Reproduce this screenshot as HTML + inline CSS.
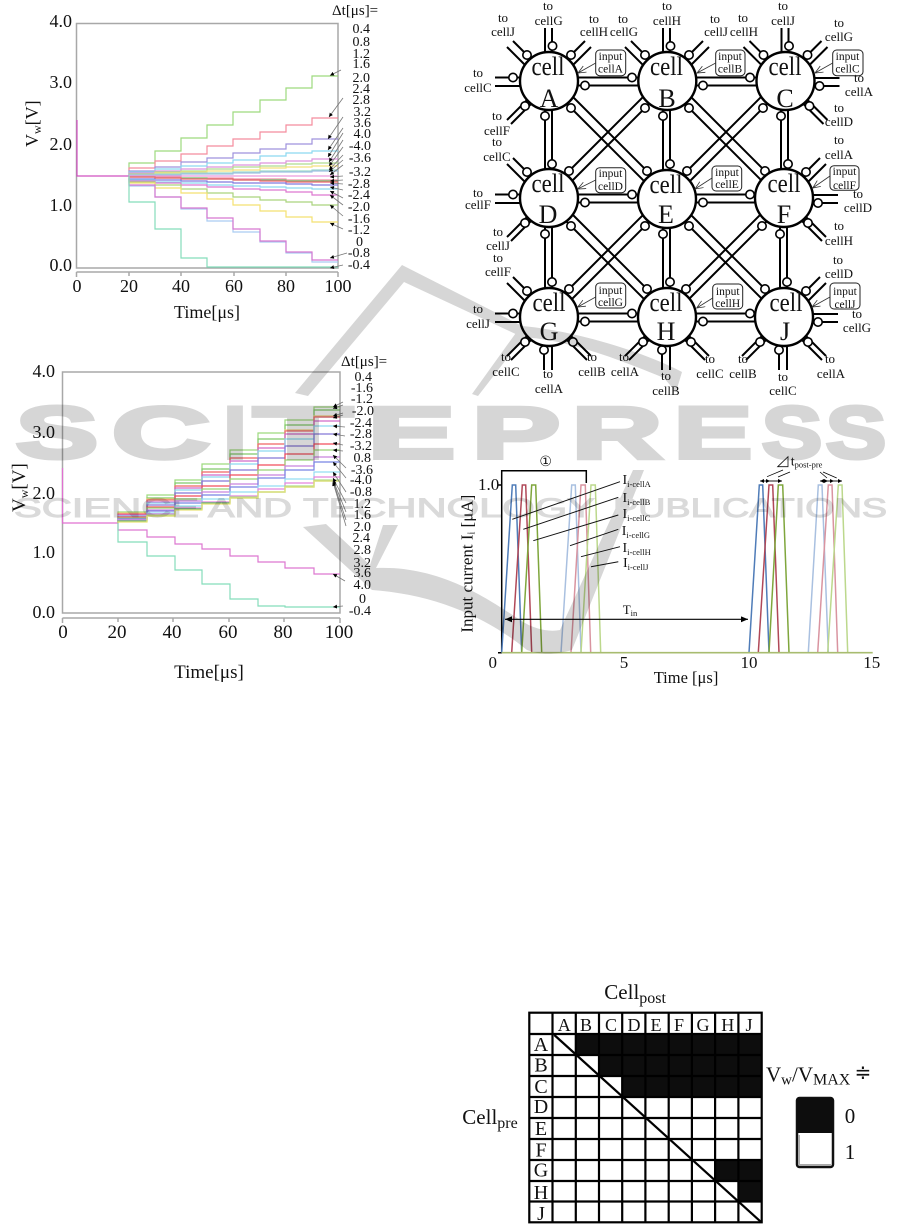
<!DOCTYPE html>
<html><head><meta charset="utf-8"><style>
html,body{margin:0;padding:0;background:#fff;width:901px;height:1224px;overflow:hidden}
svg{display:block;filter:blur(.35px)}
text{font-family:"Liberation Serif","DejaVu Serif",serif;fill:#111}
.ax{fill:none;stroke:#a8a8a8;stroke-width:1.5}
.t{fill:none;stroke-width:1.2;opacity:.85}
.ar line{stroke:#777;stroke-width:.8}
.l{fill:none;stroke:#000;stroke-width:2}
.c{fill:#fff;stroke:#000;stroke-width:1.6}
.big{fill:#fff;stroke:#000;stroke-width:2.4}
.s18{font-size:18px}
.s14{font-size:14px}
.n{font-size:13px;text-anchor:middle}
.b{font-size:11.5px;text-anchor:middle}
.box{fill:#fff;stroke:#222;stroke-width:1}
.p{fill:none;stroke-width:1.5}
.w1{font-family:"Liberation Sans",sans-serif;font-weight:bold;font-size:73px;fill:#d6d6d6;stroke:#d6d6d6;stroke-width:4}
.w2{font-family:"Liberation Sans",sans-serif;font-size:27px;fill:#dadada;stroke:#dadada;stroke-width:1}
</style></head><body>
<svg width="901" height="1224" viewBox="0 0 901 1224" xmlns="http://www.w3.org/2000/svg">
<defs>
<marker id="ah" markerUnits="userSpaceOnUse" markerWidth="5" markerHeight="5" refX="4" refY="2" orient="auto"><path d="M0 0L4 2L0 4Z" fill="#000"/></marker>
<marker id="ao" markerUnits="userSpaceOnUse" markerWidth="9" markerHeight="8" refX="8" refY="3.5" orient="auto"><path d="M0 0L8 3.5L0 7" fill="none" stroke="#333" stroke-width=".8"/></marker>
<marker id="ab" markerUnits="userSpaceOnUse" markerWidth="8" markerHeight="8" refX="7" refY="3" orient="auto-start-reverse"><path d="M0 0L7 3L0 6Z" fill="#000"/></marker>
<marker id="as" markerUnits="userSpaceOnUse" markerWidth="5" markerHeight="5" refX="4" refY="2" orient="auto-start-reverse"><path d="M0 0L4 2L0 4Z" fill="#000"/></marker>
<g id="H"><path class="l" d="M0-3.5H118M0 4.5H118"/><circle class="c" cx="83" cy="-3.5" r="4.2"/><circle class="c" cx="36" cy="4.5" r="4.2"/></g>
<g id="V"><path class="l" d="M-4 0V118M3 0V118"/><circle class="c" cx="-4" cy="35" r="4.2"/><circle class="c" cx="3" cy="83" r="4.2"/></g>
<g id="X"><path class="l" d="M0-8L118 110M0 5L118 123"/><circle class="c" cx="22" cy="27" r="4.2"/><circle class="c" cx="98" cy="90" r="4.2"/></g>
<g id="U"><path class="l" d="M-4-53V-25M3-53V-25"/><circle class="c" cx="3.5" cy="-35" r="4.2"/></g>
<g id="UL"><path class="l" d="M-36-40L-15-19M-42-34L-20-12"/><circle class="c" cx="-22" cy="-26" r="4.2"/></g>
<g id="UR"><path class="l" d="M36-40L15-19M42-34L20-12"/><circle class="c" cx="22" cy="-26" r="4.2"/></g>
<g id="L"><path class="l" d="M-54-3.5H-25M-54 5H-25"/><circle class="c" cx="-36" cy="-3.5" r="4.2"/></g>
<g id="R"><path class="l" d="M54-3H25M54 5H25"/><circle class="c" cx="34" cy="5" r="4.2"/></g>
<g id="DL"><path class="l" d="M-42 39L-20 17M-38 43L-16 21"/><circle class="c" cx="-24" cy="25" r="4.2"/></g>
<g id="DR"><path class="l" d="M42 39L20 17M38 43L16 21"/><circle class="c" cx="24" cy="25" r="4.2"/></g>
<g id="D"><path class="l" d="M-5 53V25M3 53V25"/><circle class="c" cx="-5" cy="33" r="4.2"/></g>
</defs>

<!-- Plot 1 -->
<path class="ax" d="M76.5 23.5H338V268H76.5Z"/>
<path class="ax" d="M76.5 272H338M76.5 272V277M129 272V276M181 272V276M234 272V276M286 272V276M338 272V277"/>
<path d="M77 120V176H129" fill="none" stroke="#d050c0" stroke-width="1.2"/>
<g class="t">
<path stroke="#8ed468" d="M129 176V163H155V151H181V138H207V125H233V112H260V100H286V88H312V76H338"/>
<path stroke="#f4788c" d="M129 176V168H155V161H181V154H207V146H233V139H260V132H286V125H312V118H338"/>
<path stroke="#8f7fd8" d="M129 176V171H155V167H181V162H207V158H233V153H260V149H286V144H312V139H338"/>
<path stroke="#78d2ee" d="M129 176V172H155V169H181V166H207V163H233V160H260V156H286V153H312V151H338"/>
<path stroke="#d982d8" d="M129 176V173H155V171H181V169H207V167H233V165H260V163H286V161H312V159H338"/>
<path stroke="#a4d67c" d="M129 176V174H155V172H181V171H207V169H233V167H260V166H286V164H312V163H338"/>
<path stroke="#f4dc68" d="M129 176V175H155V173H181V172H207V171H233V170H260V168H286V167H312V166H338"/>
<path stroke="#8ed6be" d="M129 176V175H155V174H181V173H207V173H233V172H260V171H286V171H312V170H338"/>
<path stroke="#8fb4e0" d="M129 176V175H155V175H181V174H207V174H233V173H260V172H286V172H312V171H338"/>
<path stroke="#e58ad8" d="M129 176H338"/>
<path stroke="#f07c98" d="M129 177H155V177H181V178H207V178H233V179H260V179H286V180H312V180H338"/>
<path stroke="#5fc060" d="M129 177H155V178H181V178H207V179H233V180H260V180H286V181H312V181H338"/>
<path stroke="#f04858" d="M129 177H155V178H181V179H207V179H233V180H260V181H286V182H312V182H338"/>
<path stroke="#6a62d8" d="M129 178V179H155V180H181V181H207V182H233V183H260V183H286V184H312V185H338"/>
<path stroke="#78d2ee" d="M129 179V180H155V182H181V183H207V185H233V186H260V187H286V188H312V189H338"/>
<path stroke="#d860c8" d="M129 179V181H155V183H181V185H207V187H233V189H260V190H286V192H312V195H338"/>
<path stroke="#9ccc68" d="M129 178V182H155V185H181V189H207V193H233V197H260V200H286V202H312V205H338"/>
<path stroke="#f4dc58" d="M129 176V183H155V188H181V193H207V199H233V205H260V211H286V217H312V222H338"/>
<path stroke="#9ac4f0" d="M129 176V186H155V197H181V209H207V221H233V232H260V242H286V253H312V262H338"/>
<path stroke="#d060c8" d="M129 176V185H155V197H181V208H207V218H233V229H260V241H286V252H312V260H338"/>
<path stroke="#70d8b0" d="M129 176V202H155V229H181V258H207V267H338"/>
</g>
<g class="ar">
<line x1="341" y1="70" x2="330" y2="75.5" marker-end="url(#ah)"/><line x1="343" y1="98" x2="329" y2="117" marker-end="url(#ah)"/><line x1="343" y1="117" x2="328" y2="139" marker-end="url(#ah)"/><line x1="343" y1="128" x2="328" y2="150" marker-end="url(#ah)"/><line x1="343" y1="133" x2="328" y2="157" marker-end="url(#ah)"/><line x1="343" y1="140" x2="329" y2="162" marker-end="url(#ah)"/><line x1="343" y1="147" x2="329" y2="166" marker-end="url(#ah)"/><line x1="343" y1="155" x2="329" y2="170" marker-end="url(#ah)"/><line x1="343" y1="160" x2="329" y2="172" marker-end="url(#ah)"/><line x1="343" y1="165" x2="330" y2="175" marker-end="url(#ah)"/><line x1="343" y1="176" x2="330" y2="177" marker-end="url(#ah)"/><line x1="343" y1="180" x2="330" y2="181" marker-end="url(#ah)"/><line x1="343" y1="184" x2="330" y2="183" marker-end="url(#ah)"/><line x1="343" y1="190" x2="330" y2="187" marker-end="url(#ah)"/><line x1="343" y1="198" x2="330" y2="191" marker-end="url(#ah)"/><line x1="343" y1="205" x2="330" y2="195" marker-end="url(#ah)"/><line x1="343" y1="216" x2="330" y2="205" marker-end="url(#ah)"/><line x1="343" y1="229" x2="330" y2="223" marker-end="url(#ah)"/><line x1="347" y1="253" x2="330" y2="258" marker-end="url(#ah)"/><line x1="343" y1="265" x2="330" y2="268" marker-end="url(#ah)"/>
</g>
<g class="s18" text-anchor="end"><text x="72" y="27">4.0</text><text x="72" y="88">3.0</text><text x="72" y="150">2.0</text><text x="72" y="211">1.0</text><text x="72" y="271">0.0</text></g>
<g class="s18" text-anchor="middle"><text x="77" y="292">0</text><text x="129" y="292">20</text><text x="181" y="292">40</text><text x="234" y="292">60</text><text x="286" y="292">80</text><text x="338" y="292">100</text><text x="207" y="318">Time[μs]</text></g>
<text class="s18" transform="translate(38 147) rotate(-90)">V<tspan font-size="12" dy="3">w</tspan><tspan dy="-3">[V]</tspan></text>
<text x="332" y="15" font-size="15">Δt[μs]=</text>
<g class="s14" text-anchor="end"><text x="370" y="33">0.4</text><text x="370" y="46">0.8</text><text x="370" y="58">1.2</text><text x="370" y="68">1.6</text><text x="370" y="82">2.0</text><text x="370" y="93">2.4</text><text x="370" y="104">2.8</text><text x="371" y="116">3.2</text><text x="371" y="127">3.6</text><text x="371" y="138">4.0</text><text x="371" y="150">-4.0</text><text x="371" y="162">-3.6</text><text x="371" y="176">-3.2</text><text x="370" y="188">-2.8</text><text x="370" y="199">-2.4</text><text x="370" y="211">-2.0</text><text x="370" y="223">-1.6</text><text x="370" y="234">-1.2</text><text x="363" y="246">0</text><text x="370" y="257">-0.8</text><text x="370" y="269">-0.4</text></g>

<!-- Plot 2 -->
<path class="ax" d="M62.5 372H340V613H62.5Z"/>
<path class="ax" d="M62.5 618H340M62.5 618V623M118 618V622M173 618V622M229 618V622M284 618V622M340 618V623"/>
<path d="M62.5 468V523H118.5" fill="none" stroke="#e070d0" stroke-width="1.2"/>
<g class="t">
<path stroke="#8ed468" d="M118 523V512H147V495H175V480H202V464H230V450H258V433H285V420H314V407H340"/>
<path stroke="#6cc050" d="M118 523V513H147V498H175V483H202V469H230V454H258V439H285V425H314V410H340"/>
<path stroke="#f4cc70" d="M118 523V513H147V499H175V486H202V472H230V458H258V444H285V430H314V416H340"/>
<path stroke="#f05060" d="M118 523V514H147V500H175V486H202V472H230V458H258V444H285V431H314V417H340"/>
<path stroke="#c850c0" d="M118 523V515H147V502H175V488H202V475H230V461H258V448H285V434H314V421H340"/>
<path stroke="#78d2ee" d="M118 523V516H147V503H175V490H202V477H230V464H258V451H285V439H314V426H340"/>
<path stroke="#7060d0" d="M118 523V517H147V505H175V493H202V481H230V470H258V458H285V446H314V434H340"/>
<path stroke="#f03040" d="M118 523V517H147V507H175V496H202V486H230V475H258V465H285V454H314V444H340"/>
<path stroke="#88cc60" d="M118 523V518H147V508H175V499H202V489H230V479H258V470H285V460H314V450H340"/>
<path stroke="#c070d8" d="M118 523V519H147V510H175V501H202V492H230V484H258V475H285V466H314V457H340"/>
<path stroke="#6070e0" d="M118 523V519H147V511H175V503H202V495H230V487H258V478H285V470H314V462H340"/>
<path stroke="#80d8f0" d="M118 523V520H147V513H175V506H202V499H230V492H258V486H285V479H314V472H340"/>
<path stroke="#e070d8" d="M118 523V520H147V514H175V508H202V502H230V496H258V489H285V483H314V477H340"/>
<path stroke="#a4d67c" d="M118 523V521H147V515H175V509H202V503H230V497H258V492H285V486H314V480H340"/>
<path stroke="#40a858" d="M118 523V521H147V516H175V509H202V503H230V498H258V492H285V487H314V481H340"/>
<path stroke="#e8e060" d="M118 523V522H147V516H175V510H202V504H230V498H258V492H285V487H314V481H340"/>
<path stroke="#d860c8" d="M118 523V530H147V537H175V544H202V549H230V556H258V562H285V568H314V574H340"/>
<path stroke="#70d8b0" d="M118 523V542H147V556H175V570H202V584H230V599H258V606H285V607H340"/>
</g>
<g class="ar">
<line x1="343" y1="402" x2="333" y2="407" marker-end="url(#ah)"/><line x1="343" y1="405" x2="333" y2="408.5" marker-end="url(#ah)"/><line x1="343" y1="413" x2="333" y2="416" marker-end="url(#ah)"/><line x1="343" y1="415" x2="333" y2="418" marker-end="url(#ah)"/><line x1="345" y1="427" x2="333" y2="426" marker-end="url(#ah)"/><line x1="345" y1="436" x2="333" y2="434" marker-end="url(#ah)"/><line x1="343" y1="445" x2="333" y2="443" marker-end="url(#ah)"/><line x1="343" y1="451" x2="333" y2="450" marker-end="url(#ah)"/><line x1="346" y1="468" x2="333" y2="455" marker-end="url(#ah)"/><line x1="346" y1="478" x2="333" y2="462" marker-end="url(#ah)"/><line x1="346" y1="492" x2="333" y2="472" marker-end="url(#ah)"/><line x1="346" y1="503" x2="333" y2="478" marker-end="url(#ah)"/><line x1="346" y1="512" x2="333" y2="480" marker-end="url(#ah)"/><line x1="346" y1="520" x2="333" y2="481" marker-end="url(#ah)"/><line x1="346" y1="526" x2="333" y2="482" marker-end="url(#ah)"/><line x1="345" y1="581" x2="333" y2="574" marker-end="url(#ah)"/><line x1="343" y1="606" x2="333" y2="607" marker-end="url(#ah)"/>
</g>
<g class="s18" text-anchor="end"><text x="55" y="377">4.0</text><text x="55" y="438">3.0</text><text x="55" y="499">2.0</text><text x="55" y="558">1.0</text><text x="55" y="618">0.0</text></g>
<g font-size="19" text-anchor="middle"><text x="63" y="638">0</text><text x="117" y="638">20</text><text x="172" y="638">40</text><text x="228" y="638">60</text><text x="283" y="638">80</text><text x="339" y="638">100</text><text x="209" y="678">Time[μs]</text></g>
<text font-size="19" transform="translate(25 512) rotate(-90)">V<tspan font-size="12" dy="3">w</tspan><tspan dy="-3">[V]</tspan></text>
<text x="341" y="366" font-size="15">Δt[μs]=</text>
<g class="s14" text-anchor="end"><text x="372" y="381">0.4</text><text x="373" y="392">-1.6</text><text x="373" y="403">-1.2</text><text x="374" y="415">-2.0</text><text x="372" y="427">-2.4</text><text x="372" y="438">-2.8</text><text x="372" y="450">-3.2</text><text x="371" y="462">0.8</text><text x="373" y="474">-3.6</text><text x="372" y="484">-4.0</text><text x="372" y="496">-0.8</text><text x="371" y="508">1.2</text><text x="371" y="519">1.6</text><text x="371" y="531">2.0</text><text x="370" y="542">2.4</text><text x="371" y="554">2.8</text><text x="371" y="567">3.2</text><text x="371" y="577">3.6</text><text x="371" y="589">4.0</text><text x="366" y="603">0</text><text x="371" y="615">-0.4</text></g>

<!-- Network -->
<use href="#H" transform="translate(549 81)"/><use href="#H" transform="translate(667 81)"/>
<use href="#H" transform="translate(549 198)"/><use href="#H" transform="translate(667 198)"/>
<use href="#H" transform="translate(549 317)"/><use href="#H" transform="translate(667 317)"/>
<use href="#V" transform="translate(549 81)"/><use href="#V" transform="translate(667 81)"/><use href="#V" transform="translate(785 81)"/>
<use href="#V" transform="translate(549 199)"/><use href="#V" transform="translate(667 199)"/><use href="#V" transform="translate(784 199)"/>
<use href="#X" transform="translate(549 81)"/><use href="#X" transform="translate(667 81)"/>
<use href="#X" transform="translate(549 199)"/><use href="#X" transform="translate(667 199)"/>
<use href="#X" transform="translate(667 81) scale(-1 1)"/><use href="#X" transform="translate(785 81) scale(-1 1)"/>
<use href="#X" transform="translate(667 199) scale(-1 1)"/><use href="#X" transform="translate(784 199) scale(-1 1)"/>
<!-- stubs -->
<use href="#U" transform="translate(549 81)"/><use href="#UL" transform="translate(549 81)"/><use href="#UR" transform="translate(549 81)"/><use href="#L" transform="translate(549 81)"/><use href="#DL" transform="translate(549 81)"/>
<use href="#U" transform="translate(667 81)"/><use href="#UL" transform="translate(667 81)"/><use href="#UR" transform="translate(667 81)"/>
<use href="#U" transform="translate(785.5 81)"/><use href="#UL" transform="translate(785.5 81)"/><use href="#UR" transform="translate(785.5 81)"/><use href="#R" transform="translate(785.5 81)"/><use href="#DR" transform="translate(785.5 81)"/>
<use href="#UL" transform="translate(549 198)"/><use href="#L" transform="translate(549 198)"/><use href="#DL" transform="translate(549 198)"/>
<use href="#UR" transform="translate(784 198)"/><use href="#R" transform="translate(784 198)"/><use href="#DR" transform="translate(784 198)"/>
<use href="#UL" transform="translate(549 317)"/><use href="#L" transform="translate(549 317)"/><use href="#DL" transform="translate(549 317)"/><use href="#D" transform="translate(549 317)"/><use href="#DR" transform="translate(549 317)"/>
<use href="#DL" transform="translate(667 317)"/><use href="#D" transform="translate(667 317)"/><use href="#DR" transform="translate(667 317)"/>
<use href="#UR" transform="translate(784 317)"/><use href="#R" transform="translate(784 317)"/><use href="#DL" transform="translate(784 317)"/><use href="#D" transform="translate(784 317)"/><use href="#DR" transform="translate(784 317)"/>
<!-- cells -->
<circle class="big" cx="549" cy="81" r="29"/><circle class="big" cx="667.3" cy="81" r="29"/><circle class="big" cx="785.5" cy="81" r="29"/>
<circle class="big" cx="549" cy="198" r="29"/><circle class="big" cx="667" cy="199" r="29"/><circle class="big" cx="784" cy="198" r="29"/>
<circle class="big" cx="549" cy="317" r="29"/><circle class="big" cx="667" cy="317" r="29"/><circle class="big" cx="784" cy="317" r="29"/>
<g font-size="26" text-anchor="middle">
<text x="548" y="75" textLength="33" lengthAdjust="spacingAndGlyphs">cell</text><text x="549" y="107">A</text>
<text x="666.5" y="75" textLength="33" lengthAdjust="spacingAndGlyphs">cell</text><text x="667" y="107">B</text>
<text x="785" y="75" textLength="33" lengthAdjust="spacingAndGlyphs">cell</text><text x="785" y="107">C</text>
<text x="548" y="192" textLength="33" lengthAdjust="spacingAndGlyphs">cell</text><text x="548" y="223">D</text>
<text x="666" y="193" textLength="33" lengthAdjust="spacingAndGlyphs">cell</text><text x="666" y="223">E</text>
<text x="784" y="192" textLength="33" lengthAdjust="spacingAndGlyphs">cell</text><text x="784" y="223">F</text>
<text x="549" y="311" textLength="33" lengthAdjust="spacingAndGlyphs">cell</text><text x="549" y="340">G</text>
<text x="666" y="311" textLength="33" lengthAdjust="spacingAndGlyphs">cell</text><text x="666" y="340">H</text>
<text x="786" y="311" textLength="33" lengthAdjust="spacingAndGlyphs">cell</text><text x="785" y="340">J</text>
</g>
<!-- inputs -->
<g>
<rect class="box" x="595.7" y="50" width="30" height="25.7" rx="4"/><rect class="box" x="715.7" y="50" width="29.3" height="25.7" rx="4"/><rect class="box" x="832.7" y="50" width="30.3" height="25.7" rx="4"/>
<rect class="box" x="595.7" y="167.7" width="30" height="25" rx="4"/><rect class="box" x="712" y="166" width="29.7" height="25" rx="4"/><rect class="box" x="830" y="165.7" width="29" height="24.5" rx="4"/>
<rect class="box" x="595.7" y="283" width="30" height="25" rx="4"/><rect class="box" x="712.7" y="284" width="30" height="25" rx="4"/><rect class="box" x="830" y="283" width="30" height="26" rx="4"/>
</g>
<g stroke="#333" stroke-width=".8" fill="none">
<line x1="595.7" y1="63" x2="578" y2="73" marker-end="url(#ao)"/><line x1="715.7" y1="63" x2="697" y2="73" marker-end="url(#ao)"/><line x1="832.7" y1="63" x2="815" y2="73" marker-end="url(#ao)"/>
<line x1="595.7" y1="180" x2="577.7" y2="189" marker-end="url(#ao)"/><line x1="712" y1="178" x2="695" y2="189" marker-end="url(#ao)"/><line x1="830" y1="176" x2="812.7" y2="188" marker-end="url(#ao)"/>
<line x1="595.7" y1="297" x2="577.7" y2="307" marker-end="url(#ao)"/><line x1="712.7" y1="298" x2="696.7" y2="308" marker-end="url(#ao)"/><line x1="830" y1="297" x2="812" y2="307" marker-end="url(#ao)"/>
</g>
<g class="b">
<text x="610.5" y="60">input</text><text x="610.5" y="72.5">cellA</text>
<text x="730" y="60">input</text><text x="730" y="72.5">cellB</text>
<text x="847.5" y="60">input</text><text x="847.5" y="72.5">cellC</text>
<text x="610.5" y="177">input</text><text x="610.5" y="190">cellD</text>
<text x="727" y="176">input</text><text x="727" y="188">cellE</text>
<text x="844.5" y="175">input</text><text x="844.5" y="189">cellF</text>
<text x="610.5" y="294">input</text><text x="610.5" y="306">cellG</text>
<text x="727.7" y="295">input</text><text x="727.7" y="307">cellH</text>
<text x="845" y="295">input</text><text x="845" y="308">cellJ</text>
</g>
<g class="n">
<text x="548" y="10">to</text><text x="548.7" y="25">cellG</text>
<text x="503" y="22">to</text><text x="503" y="36">cellJ</text>
<text x="594" y="23">to</text><text x="594" y="36">cellH</text>
<text x="623" y="23">to</text><text x="624" y="36">cellG</text>
<text x="667" y="10">to</text><text x="667" y="25">cellH</text>
<text x="715" y="23">to</text><text x="716" y="36">cellJ</text>
<text x="743" y="22">to</text><text x="744" y="36">cellH</text>
<text x="783" y="10">to</text><text x="783" y="25">cellJ</text>
<text x="839" y="27">to</text><text x="839" y="41">cellG</text>
<text x="478" y="77">to</text><text x="478" y="92">cellC</text>
<text x="859" y="82">to</text><text x="859" y="96">cellA</text>
<text x="497" y="120">to</text><text x="497" y="135">cellF</text>
<text x="839" y="112">to</text><text x="839" y="126">cellD</text>
<text x="497" y="146">to</text><text x="497" y="161">cellC</text>
<text x="839" y="144">to</text><text x="839" y="159">cellA</text>
<text x="478" y="197">to</text><text x="478" y="209">cellF</text>
<text x="858" y="198">to</text><text x="858" y="212">cellD</text>
<text x="498" y="236">to</text><text x="498" y="250">cellJ</text>
<text x="498" y="262">to</text><text x="498" y="276">cellF</text>
<text x="478" y="313">to</text><text x="478" y="328">cellJ</text>
<text x="839" y="230">to</text><text x="839" y="245">cellH</text>
<text x="838" y="264">to</text><text x="839" y="278">cellD</text>
<text x="857" y="318">to</text><text x="857" y="332">cellG</text>
<text x="506" y="361">to</text><text x="506" y="376">cellC</text>
<text x="548" y="378">to</text><text x="549" y="393">cellA</text>
<text x="592" y="361">to</text><text x="592" y="376">cellB</text>
<text x="624" y="361">to</text><text x="625" y="376">cellA</text>
<text x="666" y="380">to</text><text x="666" y="395">cellB</text>
<text x="710" y="363">to</text><text x="710" y="378">cellC</text>
<text x="743" y="363">to</text><text x="743" y="378">cellB</text>
<text x="783" y="381">to</text><text x="783" y="395">cellC</text>
<text x="830" y="363">to</text><text x="831" y="378">cellA</text>
</g>

<!-- Pulses -->
<path d="M586.3 483V470.7H501.7V652.7" fill="none" stroke="#000" stroke-width="1.5"/>
<path d="M498 485H502M498 652.7H502" stroke="#000" stroke-width="1.5"/>
<g class="p">
<path stroke="#a9c0e0" d="M561 652.7L571.7 485H575.3L581 652.7M808.3 652.7L818.3 485H822L828.3 652.7"/>
<path stroke="#d994a0" d="M571 652.7L581 485H585.3L590.7 652.7M817.7 652.7L828.3 485H832L837.7 652.7"/>
<path stroke="#bcd88c" d="M581 652.7L591 485H595.3L600.7 652.7M827.7 652.7L838.3 485H842L847.7 652.7"/>
<path stroke="#4f7cb8" d="M501.7 652.7L512.3 485H515.7L521.7 652.7M749 652.7L759.3 485H762.7L769 652.7"/>
<path stroke="#b04858" d="M511.7 652.7L522.3 485H525.7L531.7 652.7M758.3 652.7L769 485H772.7L779 652.7"/>
<path stroke="#7fa63c" d="M521.7 652.7L531.7 485H535.7L541.7 652.7M769 652.7L778.3 485H782.7L789 652.7"/>
</g>
<path d="M501.7 652.7H872.7" stroke="#a8bc70" stroke-width="1.6"/>
<g stroke="#111" stroke-width="1">
<line x1="512.3" y1="519.3" x2="620" y2="481.7"/><line x1="523.3" y1="529.3" x2="618.3" y2="497.3"/><line x1="533.3" y1="540.7" x2="618.3" y2="515"/><line x1="570" y1="545.7" x2="618.3" y2="529.3"/><line x1="581" y1="556.7" x2="620" y2="546.7"/><line x1="591" y1="566.7" x2="618.3" y2="561.7"/>
</g>
<line x1="505" y1="619.3" x2="748" y2="619.3" stroke="#000" stroke-width="1.1" marker-start="url(#ab)" marker-end="url(#ab)"/>
<text x="622.7" y="614" font-size="13">T<tspan font-size="8.5" dy="2">in</tspan></text>
<text x="545.7" y="466" font-size="14" text-anchor="middle" style="font-family:'DejaVu Sans',sans-serif">①</text>
<g font-size="14">
<text x="622.5" y="484">I<tspan font-size="8.5" dy="3">i-cellA</tspan></text>
<text x="622.5" y="502">I<tspan font-size="8.5" dy="3">i-cellB</tspan></text>
<text x="622.5" y="518">I<tspan font-size="8.5" dy="3">i-cellC</tspan></text>
<text x="621.7" y="535">I<tspan font-size="8.5" dy="3">i-cellG</tspan></text>
<text x="622.5" y="552">I<tspan font-size="8.5" dy="3">i-cellH</tspan></text>
<text x="623" y="567">I<tspan font-size="8.5" dy="3">i-cellJ</tspan></text>
</g>
<path d="M777.7 466.7L788 456.7V466.7Z" fill="none" stroke="#111" stroke-width=".8"/>
<text x="790.7" y="465.7" font-size="14">t<tspan font-size="8.5" dy="2">post-pre</tspan></text>
<g stroke="#000" stroke-width=".9">
<line x1="760" y1="481" x2="770" y2="481" marker-start="url(#as)" marker-end="url(#as)"/><line x1="770" y1="481" x2="782" y2="481" marker-end="url(#as)"/>
<line x1="820" y1="481" x2="828" y2="481" marker-start="url(#as)" marker-end="url(#as)"/><line x1="828" y1="481" x2="834" y2="481" marker-end="url(#as)"/><line x1="834" y1="481" x2="842" y2="481" marker-end="url(#as)"/>
<line x1="767" y1="476.7" x2="783" y2="470" stroke-width=".7"/><line x1="778" y1="477" x2="790" y2="472" stroke-width=".7"/><line x1="820" y1="472" x2="827" y2="478" stroke-width=".7"/><line x1="823" y1="472" x2="836.7" y2="478" stroke-width=".7"/>
</g>
<text x="478" y="490" font-size="17">1.0</text>
<g font-size="17" text-anchor="middle"><text x="492.7" y="668">0</text><text x="624" y="668">5</text><text x="749" y="668">10</text><text x="871.7" y="668">15</text></g>
<text x="686" y="683" font-size="16.5" text-anchor="middle">Time [μs]</text>
<text font-size="17" text-anchor="middle" transform="translate(472.7 563.7) rotate(-90)">Input current I<tspan font-size="10" dy="2">i</tspan><tspan dy="-2"> [μA]</tspan></text>

<!-- Matrix -->
<g fill="#0d0d0d">
<rect x="575.8" y="1034" width="186" height="21"/>
<rect x="599" y="1055" width="163" height="21"/>
<rect x="622.2" y="1076" width="139.5" height="21"/>
<rect x="715.1" y="1160" width="46.6" height="21"/>
<rect x="738.4" y="1181" width="23.3" height="20.5"/>
</g>
<g stroke="#000" stroke-width="2.2" fill="none">
<rect x="529.3" y="1012.7" width="232.4" height="209.6"/>
<path d="M552.5 1012.7V1222.3M575.8 1012.7V1222.3M599 1012.7V1222.3M622.2 1012.7V1222.3M645.4 1012.7V1222.3M668.7 1012.7V1222.3M691.9 1012.7V1222.3M715.1 1012.7V1222.3M738.4 1012.7V1222.3"/>
<path d="M529.3 1034H761.7M529.3 1055H761.7M529.3 1076H761.7M529.3 1097H761.7M529.3 1118H761.7M529.3 1139H761.7M529.3 1160H761.7M529.3 1181H761.7M529.3 1201.5H761.7"/>
<path d="M554.3 1035L760.7 1221.7"/>
</g>
<g font-size="18" text-anchor="middle" style="fill:#333">
<text x="564.3" y="1031">A</text><text x="586" y="1031">B</text><text x="611" y="1031">C</text><text x="634" y="1031">D</text><text x="656" y="1031">E</text><text x="679" y="1031">F</text><text x="703" y="1031">G</text><text x="727.7" y="1031">H</text><text x="749" y="1031">J</text>
</g>
<g font-size="20" text-anchor="middle">
<text x="541" y="1051">A</text><text x="541" y="1071.7">B</text><text x="541" y="1093">C</text><text x="541" y="1113">D</text><text x="541" y="1135">E</text><text x="541" y="1156.7">F</text><text x="541" y="1176.7">G</text><text x="541" y="1199">H</text><text x="541" y="1220">J</text>
</g>
<text x="604.3" y="999" font-size="21">Cell<tspan font-size="16" dy="4">post</tspan></text>
<text x="462.3" y="1124" font-size="21">Cell<tspan font-size="16" dy="4">pre</tspan></text>
<text x="766" y="1081.7" font-size="21">V<tspan font-size="15" dy="3">w</tspan><tspan dy="-3">/V</tspan><tspan font-size="16" dy="3">MAX</tspan></text>
<text x="863" y="1079" font-size="20" text-anchor="middle" style="font-family:'DejaVu Sans',sans-serif">≑</text>
<rect x="797" y="1098" width="36" height="69" rx="2.5" fill="#fff" stroke="#111" stroke-width="2.5"/>
<rect x="797" y="1098" width="36" height="35" fill="#0d0d0d"/>
<path d="M799 1135V1165M799 1165H831" stroke="#aaa" stroke-width="2" fill="none"/>
<text x="850" y="1123" font-size="21" text-anchor="middle">0</text><text x="850" y="1159" font-size="21" text-anchor="middle">1</text>

<!-- Watermark -->
<g style="mix-blend-mode:multiply">
<g fill="#d6d6d6" stroke="none">
<path d="M295 393L402 265L522 326C570 330 640 350 682 372L676 392L664 378C620 360 570 340 522 337L404 282L308 396Z"/>
<path d="M518 330L526 334L478 396L472 394Z"/>
<path d="M303 527L326 524L370 565L383 525L398 525L376 568C440 565 490 600 520 620C535 630 550 632 560 630L633 470L644 470L572 650C555 655 540 655 527 650C490 620 440 595 372 590Z"/>
</g>
<g class="w1" lengthAdjust="spacingAndGlyphs">
<text class="w1" x="16" y="458" textLength="82" lengthAdjust="spacingAndGlyphs">S</text>
<text class="w1" x="112" y="458" textLength="98" lengthAdjust="spacingAndGlyphs">C</text>
<text class="w1" x="224" y="458" textLength="22" lengthAdjust="spacingAndGlyphs">I</text>
<text class="w1" x="254" y="458" textLength="98" lengthAdjust="spacingAndGlyphs">T</text>
<text class="w1" x="368" y="458" textLength="87" lengthAdjust="spacingAndGlyphs">E</text>
<text class="w1" x="472" y="458" textLength="88" lengthAdjust="spacingAndGlyphs">P</text>
<text class="w1" x="572" y="458" textLength="90" lengthAdjust="spacingAndGlyphs">R</text>
<text class="w1" x="674" y="458" textLength="78" lengthAdjust="spacingAndGlyphs">E</text>
<text class="w1" x="762" y="458" textLength="60" lengthAdjust="spacingAndGlyphs">S</text>
<text class="w1" x="826" y="458" textLength="60" lengthAdjust="spacingAndGlyphs">S</text>
</g>
<text class="w2" x="14" y="517" textLength="185" lengthAdjust="spacingAndGlyphs">SCIENCE</text>
<text class="w2" x="208" y="517" textLength="84" lengthAdjust="spacingAndGlyphs">AND</text>
<text class="w2" x="303" y="517" textLength="292" lengthAdjust="spacingAndGlyphs">TECHNOLOGY</text>
<text class="w2" x="613" y="517" textLength="274" lengthAdjust="spacingAndGlyphs">PUBLICATIONS</text>
</g>
</svg>
</body></html>
